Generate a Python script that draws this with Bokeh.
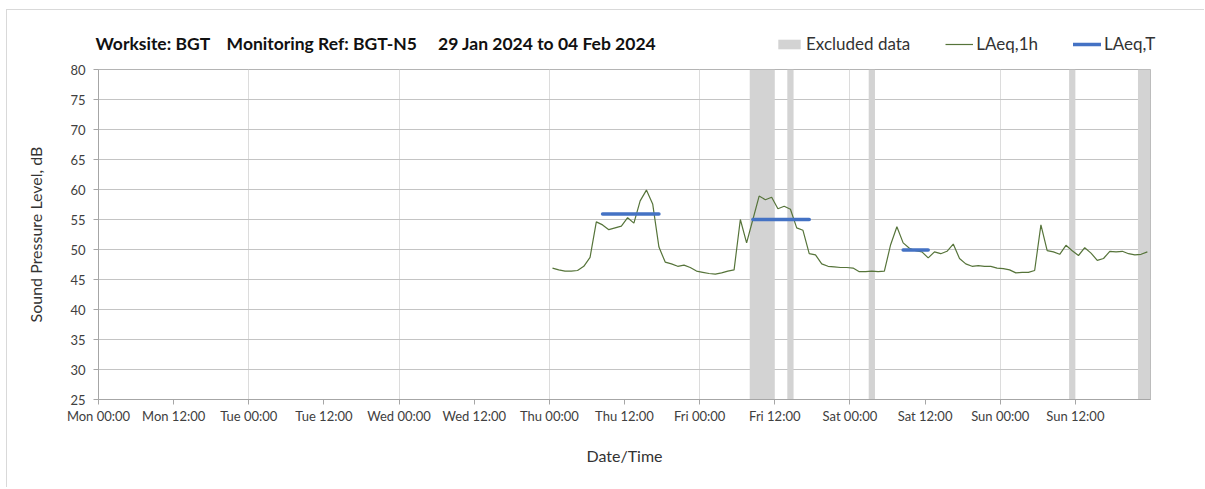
from bokeh.plotting import figure
from bokeh.layouts import column
from bokeh.models import Range1d, FixedTicker, Legend, LegendItem, Label
from bokeh.embed import file_html
from bokeh.resources import INLINE

FONT = "Lato"
NB = "\u00a0"
NAN = float("nan")
title_text = "Worksite: BGT" + NB * 4 + "Monitoring Ref: BGT-N5" + NB * 5 + "29 Jan 2024 to 04 Feb 2024"
y_label = "Sound Pressure Level, dB"
x_label = "Date/Time"

# axes
y_min, y_max = 25, 80
y_ticks = [25, 30, 35, 40, 45, 50, 55, 60, 65, 70, 75, 80]
x_min, x_max = 0, 168  # hours from Mon 00:00
x_tick_hours = [0, 12, 24, 36, 48, 60, 72, 84, 96, 108, 120, 132, 144, 156]
x_tick_labels = ["Mon 00:00", "Mon 12:00", "Tue 00:00", "Tue 12:00", "Wed 00:00", "Wed 12:00",
                 "Thu 00:00", "Thu 12:00", "Fri 00:00", "Fri 12:00", "Sat 00:00", "Sat 12:00",
                 "Sun 00:00", "Sun 12:00"]
day_start_hours = [24, 48, 72, 96, 120, 144]

# LAeq,1h hourly values (plotted mid-hour), Thu 00:30 onwards
first_hour = 72.5
laeq_thu = [46.9, 46.6, 46.4, 46.4, 46.5, 47.2, 48.7, 54.6, 54.1, 53.3, 53.6, 53.9,
            55.3, 54.4, 58.1, 59.9, 57.6, 50.4, 47.9, 47.6, 47.2, 47.4, 47.0, 46.4]
laeq_fri = [46.2, 46.0, 45.9, 46.1, 46.4, 46.6, 55.0, 51.1, 55.0, 58.9, 58.3, 58.7,
            56.8, 57.2, 56.7, 53.6, 53.2, 49.3, 49.1, 47.6, 47.2, 47.1, 47.0, 47.0]
laeq_sat = [46.9, 46.3, 46.3, 46.4, 46.3, 46.4, 50.8, 53.8, 51.1, 50.2, 49.8, 49.6,
            48.6, 49.6, 49.3, 49.7, 50.9, 48.5, 47.6, 47.2, 47.3, 47.2, 47.2, 46.9]
laeq_sun = [46.8, 46.6, 46.1, 46.2, 46.2, 46.5, 54.1, 49.8, 49.6, 49.2, 50.7, 49.8,
            49.0, 50.3, 49.4, 48.2, 48.5, 49.7, 49.6, 49.7, 49.3, 49.1, 49.2, 49.6]

# excluded periods (hours from Mon 00:00)
excl_start = [104, 110, 123, 155, 166]
excl_end = [108, 111, 124, 156, 168]

# LAeq,T periods
laeqT_start = [80.5, 104.5, 128.5]
laeqT_end = [89.5, 113.5, 132.5]
laeqT_value = [55.9, 55.0, 49.9]

laeq_1h = laeq_thu + laeq_fri + laeq_sat + laeq_sun
times = [first_hour + i for i in range(len(laeq_1h))]

BAND = dict(fill_color="#d3d3d3", line_color=None)
LINE = dict(line_color="#56743a", line_width=1.2)
SEG = dict(line_color="#4472c4", line_width=3.5, line_cap="round")

W = 1197

# ---- header strip: title + legend ----
header = figure(width=W, height=45, x_range=Range1d(0, 1), y_range=Range1d(0, 1),
                output_backend="svg", toolbar_location=None,
                x_axis_type=None, y_axis_type=None, min_border=0)
header.frame_align = False
header.outline_line_color = None
header.grid.visible = False
# legend proxies (no visible data)
h_band = header.quad(left=[NAN], right=[NAN], bottom=[NAN], top=[NAN], **BAND)
h_line = header.line(x=[NAN], y=[NAN], **LINE)
h_seg = header.segment(x0=[NAN], y0=[NAN], x1=[NAN], y1=[NAN], **SEG)

header.add_layout(Label(x=88, y=12, x_units="screen", y_units="screen", text=title_text,
                        text_font=FONT, text_font_style="bold", text_font_size="17.5px",
                        text_color="#111111", text_baseline="alphabetic"))

legend = Legend(items=[LegendItem(label="Excluded data", renderers=[h_band]),
                       LegendItem(label="LAeq,1h", renderers=[h_line]),
                       LegendItem(label="LAeq,T", renderers=[h_seg])],
                orientation="horizontal", location=(768, 1),
                glyph_width=28, glyph_height=12, label_height=20, label_standoff=3, spacing=35,
                padding=0, margin=0, border_line_color=None, background_fill_alpha=0,
                label_text_font=FONT, label_text_font_size="17px", label_text_color="#333333")
header.add_layout(legend)

# ---- main chart ----
p = figure(width=W, height=432, x_range=Range1d(x_min, x_max), y_range=Range1d(y_min, y_max),
           output_backend="svg", toolbar_location=None,
           min_border_left=91, min_border_right=54, min_border_top=14, min_border_bottom=88)
p.frame_align = False
p.outline_line_color = "#b4b4b4"

p.quad(left=excl_start, right=excl_end, bottom=y_min, top=y_max, **BAND)
p.line(times, laeq_1h, **LINE)
p.segment(x0=laeqT_start, y0=laeqT_value, x1=laeqT_end, y1=laeqT_value, **SEG)

p.ygrid.ticker = FixedTicker(ticks=y_ticks)
p.ygrid.grid_line_color = "#c4c4c4"
p.xgrid.ticker = FixedTicker(ticks=day_start_hours)
p.xgrid.grid_line_color = "#dcdcdc"

p.xaxis.ticker = FixedTicker(ticks=x_tick_hours)
p.xaxis.major_label_overrides = dict(zip(x_tick_hours, x_tick_labels))
p.yaxis.ticker = FixedTicker(ticks=y_ticks)
p.axis.minor_tick_line_color = None
p.axis.major_tick_in = 0
p.axis.major_tick_out = 5
p.axis.axis_line_color = "#a6a6a6"
p.axis.major_tick_line_color = "#a6a6a6"
p.axis.major_label_text_font = FONT
p.axis.major_label_text_font_size = "13px"
p.axis.major_label_text_color = "#404040"
p.axis.axis_label_text_font = FONT
p.axis.axis_label_text_font_size = "16px"
p.axis.axis_label_text_font_style = "normal"
p.axis.axis_label_text_color = "#333333"
p.xaxis.axis_label = x_label
p.yaxis.axis_label = y_label
p.xaxis.major_label_standoff = 3
p.yaxis.major_label_standoff = 8
p.xaxis.axis_label_standoff = 19
p.yaxis.axis_label_standoff = 22

layout = column(header, p, spacing=0)
layout.styles = {"margin-left": "6px", "margin-top": "9px",
                 "border-left": "1px solid #d9d9d9", "border-top": "1px solid #d9d9d9"}

open("out.html", "w").write(file_html(layout, INLINE))
